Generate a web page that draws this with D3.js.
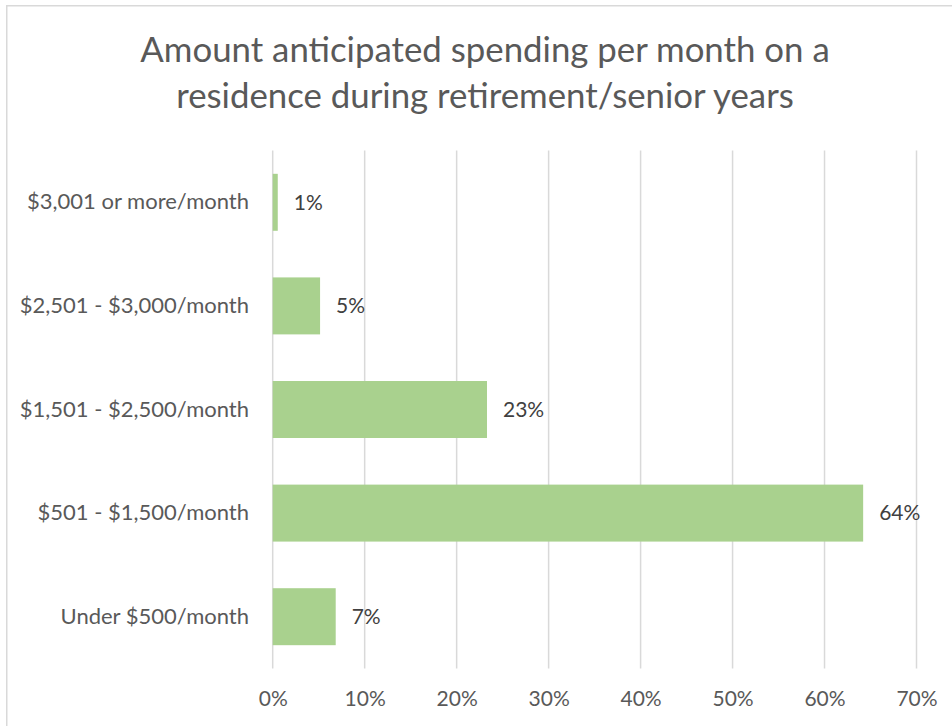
<!DOCTYPE html>
<html>
<head>
<meta charset="utf-8">
<script src="https://cdn.jsdelivr.net/npm/d3@7"></script>
<style>
  html, body { margin: 0; padding: 0; background: #fff; }
  svg { display: block; }
  text { font-family: Lato, "Open Sans", sans-serif; }
</style>
</head>
<body>
<div id="chart"></div>
<script>
const titleLines = ["Amount anticipated spending per month on a", "residence during retirement/senior years"];
const categories = ["$3,001 or more/month", "$2,501 - $3,000/month", "$1,501 - $2,500/month", "$501 - $1,500/month", "Under $500/month"];
const values = [0.0055, 0.0515, 0.233, 0.642, 0.0685];
const tickValues = [0, 0.1, 0.2, 0.3, 0.4, 0.5, 0.6, 0.7];

const W = 952, H = 726;
const margin = { top: 150.5, left: 272.7, right: W - 916.5, bottom: H - 668.5 };

const svg = d3.select("#chart").append("svg").attr("width", W).attr("height", H);

// chart border
svg.append("rect")
  .attr("x", 6.75).attr("y", 5.75)
  .attr("width", W + 20).attr("height", H + 20)
  .attr("fill", "#fff").attr("stroke", "#d9d9d9").attr("stroke-width", 1.5);

const x = d3.scaleLinear().domain([0, 0.7]).range([margin.left, W - margin.right]);
const y = d3.scaleBand().domain(categories).range([margin.top, H - margin.bottom])
  .paddingInner(0.45).paddingOuter(0.225);

// gridlines
svg.append("g").selectAll("line").data(tickValues).join("line")
  .attr("x1", d => x(d)).attr("x2", d => x(d))
  .attr("y1", margin.top).attr("y2", H - margin.bottom)
  .attr("stroke", "#d9d9d9").attr("stroke-width", 1.5);

// x axis labels
const xAxis = d3.axisBottom(x).tickValues(tickValues).tickFormat(d3.format(".0%")).tickSize(0).tickPadding(0);
const gx = svg.append("g").attr("transform", `translate(0,${H - margin.bottom + 23})`).call(xAxis);
gx.select(".domain").remove();
gx.selectAll("text").attr("font-size", 21).attr("fill", "#595959")
  .attr("font-family", "Lato, sans-serif").attr("dy", "0.71em");

// y axis labels
const yAxis = d3.axisLeft(y).tickSize(0).tickPadding(0);
const gy = svg.append("g").attr("transform", `translate(249,0)`).call(yAxis);
gy.select(".domain").remove();
gy.selectAll("text").attr("font-size", 22).attr("fill", "#595959")
  .attr("font-family", "Lato, sans-serif");

// bars
svg.append("g").selectAll("rect").data(values).join("rect")
  .attr("x", x(0))
  .attr("y", (d, i) => y(categories[i]))
  .attr("width", d => x(d) - x(0))
  .attr("height", y.bandwidth())
  .attr("fill", "#a9d18e");

// data labels
const fmt = d3.format(".0%");
svg.append("g").selectAll("text").data(values).join("text")
  .attr("x", d => x(d) + 16)
  .attr("y", (d, i) => y(categories[i]) + y.bandwidth() / 2)
  .attr("dy", "0.35em")
  .attr("font-size", 21).attr("fill", "#404040")
  .text(d => fmt(d));

// title
svg.append("g").selectAll("text").data(titleLines).join("text")
  .attr("x", 485).attr("y", (d, i) => 62 + i * 46)
  .attr("text-anchor", "middle")
  .attr("font-size", 34.8).attr("fill", "#595959")
  .text(d => d);
</script>
</body>
</html>
